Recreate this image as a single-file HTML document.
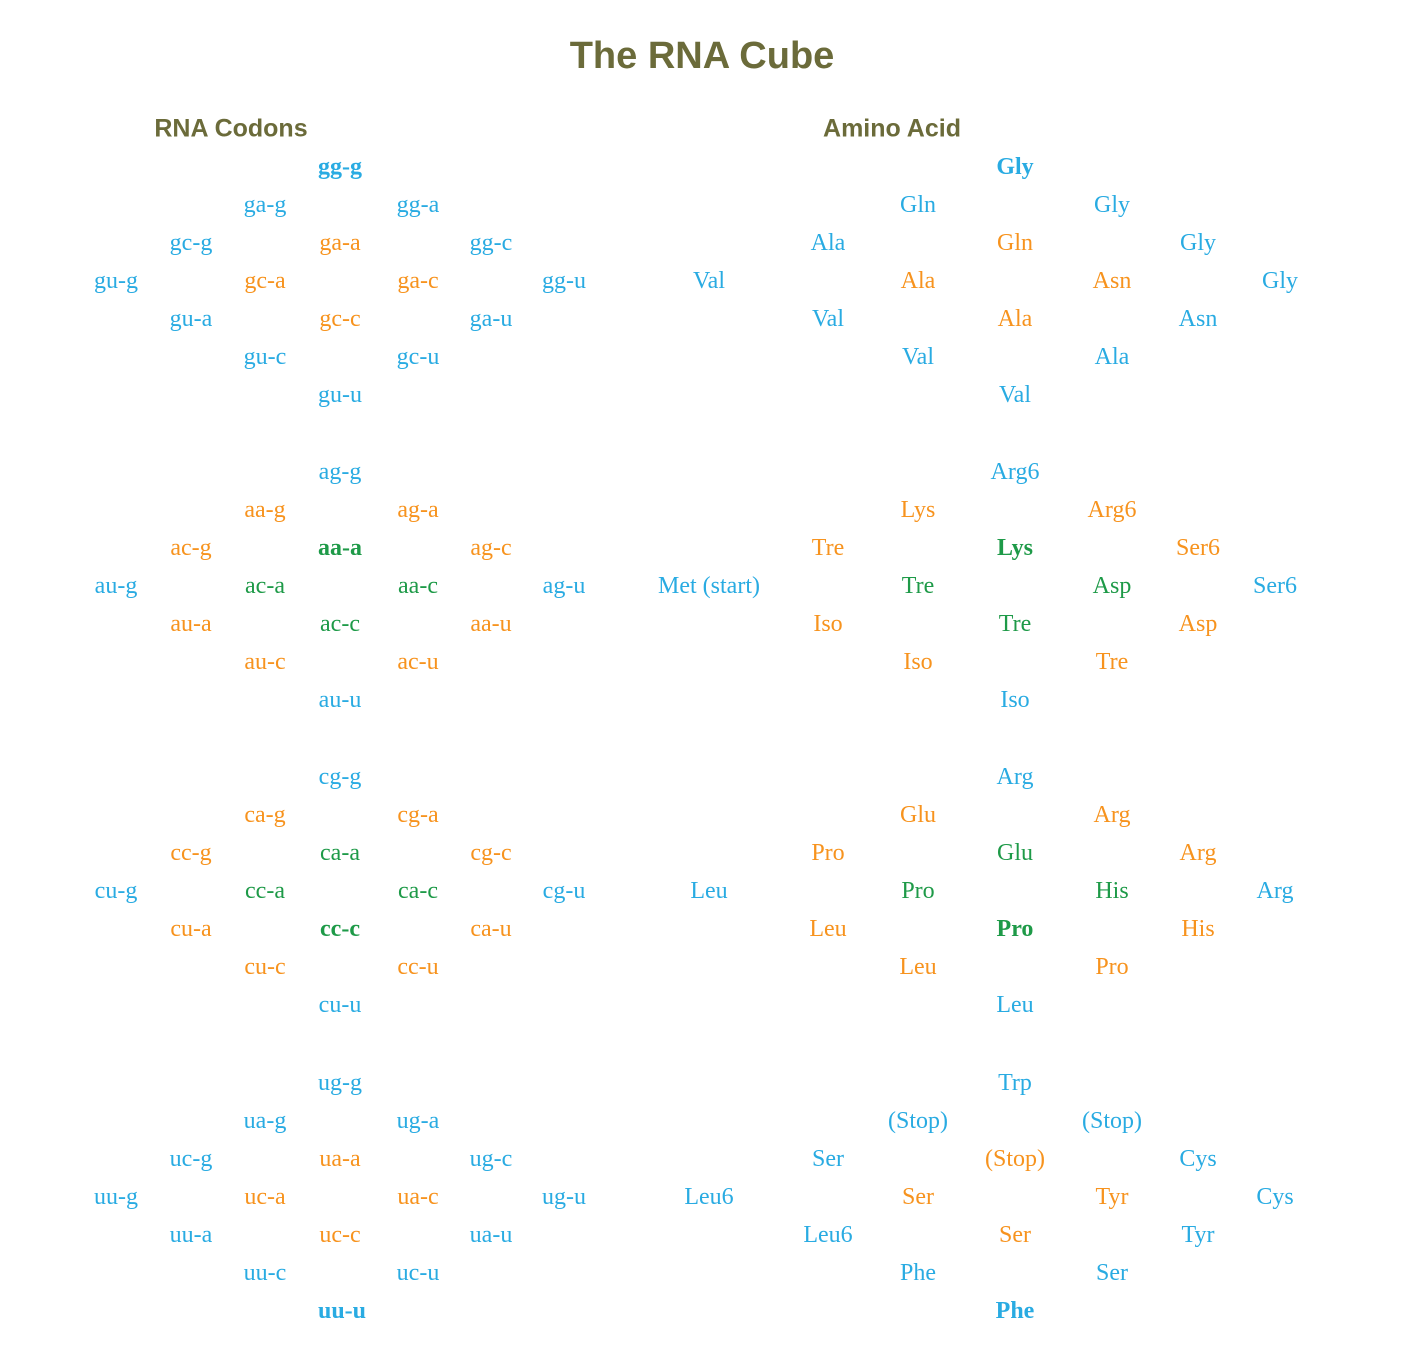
<!DOCTYPE html>
<html><head><meta charset="utf-8"><style>
body{margin:0;width:1404px;height:1354px;background:#fff;position:relative;overflow:hidden}
span{position:absolute;transform:translate(-50%,-50%);white-space:nowrap;font-family:"Liberation Serif",serif;font-size:24px;line-height:1}
.B{color:#29abe2}.O{color:#f7931e}.G{color:#1e9a48}.b{font-weight:bold}
.h{font-family:"Liberation Sans",sans-serif;font-weight:bold;color:#6b6b3a}
</style></head><body>
<span class="h" style="left:702px;top:56px;font-size:38px">The RNA Cube</span>
<span class="h" style="left:231px;top:129px;font-size:25px">RNA Codons</span>
<span class="h" style="left:892px;top:129px;font-size:25px">Amino Acid</span>

<!-- Block 1 -->
<span class="B b" style="left:340px;top:167px">gg-g</span>
<span class="B" style="left:265px;top:205px">ga-g</span><span class="B" style="left:418px;top:205px">gg-a</span>
<span class="B" style="left:191px;top:243px">gc-g</span><span class="O" style="left:340px;top:243px">ga-a</span><span class="B" style="left:491px;top:243px">gg-c</span>
<span class="B" style="left:116px;top:281px">gu-g</span><span class="O" style="left:265px;top:281px">gc-a</span><span class="O" style="left:418px;top:281px">ga-c</span><span class="B" style="left:564px;top:281px">gg-u</span>
<span class="B" style="left:191px;top:319px">gu-a</span><span class="O" style="left:340px;top:319px">gc-c</span><span class="B" style="left:491px;top:319px">ga-u</span>
<span class="B" style="left:265px;top:357px">gu-c</span><span class="B" style="left:418px;top:357px">gc-u</span>
<span class="B" style="left:340px;top:395px">gu-u</span>

<span class="B b" style="left:1015px;top:167px">Gly</span>
<span class="B" style="left:918px;top:205px">Gln</span><span class="B" style="left:1112px;top:205px">Gly</span>
<span class="B" style="left:828px;top:243px">Ala</span><span class="O" style="left:1015px;top:243px">Gln</span><span class="B" style="left:1198px;top:243px">Gly</span>
<span class="B" style="left:709px;top:281px">Val</span><span class="O" style="left:918px;top:281px">Ala</span><span class="O" style="left:1112px;top:281px">Asn</span><span class="B" style="left:1280px;top:281px">Gly</span>
<span class="B" style="left:828px;top:319px">Val</span><span class="O" style="left:1015px;top:319px">Ala</span><span class="B" style="left:1198px;top:319px">Asn</span>
<span class="B" style="left:918px;top:357px">Val</span><span class="B" style="left:1112px;top:357px">Ala</span>
<span class="B" style="left:1015px;top:395px">Val</span>

<!-- Block 2 -->
<span class="B" style="left:340px;top:472px">ag-g</span>
<span class="O" style="left:265px;top:510px">aa-g</span><span class="O" style="left:418px;top:510px">ag-a</span>
<span class="O" style="left:191px;top:548px">ac-g</span><span class="G b" style="left:340px;top:548px">aa-a</span><span class="O" style="left:491px;top:548px">ag-c</span>
<span class="B" style="left:116px;top:586px">au-g</span><span class="G" style="left:265px;top:586px">ac-a</span><span class="G" style="left:418px;top:586px">aa-c</span><span class="B" style="left:564px;top:586px">ag-u</span>
<span class="O" style="left:191px;top:624px">au-a</span><span class="G" style="left:340px;top:624px">ac-c</span><span class="O" style="left:491px;top:624px">aa-u</span>
<span class="O" style="left:265px;top:662px">au-c</span><span class="O" style="left:418px;top:662px">ac-u</span>
<span class="B" style="left:340px;top:700px">au-u</span>

<span class="B" style="left:1015px;top:472px">Arg6</span>
<span class="O" style="left:918px;top:510px">Lys</span><span class="O" style="left:1112px;top:510px">Arg6</span>
<span class="O" style="left:828px;top:548px">Tre</span><span class="G b" style="left:1015px;top:548px">Lys</span><span class="O" style="left:1198px;top:548px">Ser6</span>
<span class="B" style="left:709px;top:586px">Met (start)</span><span class="G" style="left:918px;top:586px">Tre</span><span class="G" style="left:1112px;top:586px">Asp</span><span class="B" style="left:1275px;top:586px">Ser6</span>
<span class="O" style="left:828px;top:624px">Iso</span><span class="G" style="left:1015px;top:624px">Tre</span><span class="O" style="left:1198px;top:624px">Asp</span>
<span class="O" style="left:918px;top:662px">Iso</span><span class="O" style="left:1112px;top:662px">Tre</span>
<span class="B" style="left:1015px;top:700px">Iso</span>

<!-- Block 3 -->
<span class="B" style="left:340px;top:777px">cg-g</span>
<span class="O" style="left:265px;top:815px">ca-g</span><span class="O" style="left:418px;top:815px">cg-a</span>
<span class="O" style="left:191px;top:853px">cc-g</span><span class="G" style="left:340px;top:853px">ca-a</span><span class="O" style="left:491px;top:853px">cg-c</span>
<span class="B" style="left:116px;top:891px">cu-g</span><span class="G" style="left:265px;top:891px">cc-a</span><span class="G" style="left:418px;top:891px">ca-c</span><span class="B" style="left:564px;top:891px">cg-u</span>
<span class="O" style="left:191px;top:929px">cu-a</span><span class="G b" style="left:340px;top:929px">cc-c</span><span class="O" style="left:491px;top:929px">ca-u</span>
<span class="O" style="left:265px;top:967px">cu-c</span><span class="O" style="left:418px;top:967px">cc-u</span>
<span class="B" style="left:340px;top:1005px">cu-u</span>

<span class="B" style="left:1015px;top:777px">Arg</span>
<span class="O" style="left:918px;top:815px">Glu</span><span class="O" style="left:1112px;top:815px">Arg</span>
<span class="O" style="left:828px;top:853px">Pro</span><span class="G" style="left:1015px;top:853px">Glu</span><span class="O" style="left:1198px;top:853px">Arg</span>
<span class="B" style="left:709px;top:891px">Leu</span><span class="G" style="left:918px;top:891px">Pro</span><span class="G" style="left:1112px;top:891px">His</span><span class="B" style="left:1275px;top:891px">Arg</span>
<span class="O" style="left:828px;top:929px">Leu</span><span class="G b" style="left:1015px;top:929px">Pro</span><span class="O" style="left:1198px;top:929px">His</span>
<span class="O" style="left:918px;top:967px">Leu</span><span class="O" style="left:1112px;top:967px">Pro</span>
<span class="B" style="left:1015px;top:1005px">Leu</span>

<!-- Block 4 -->
<span class="B" style="left:340px;top:1083px">ug-g</span>
<span class="B" style="left:265px;top:1121px">ua-g</span><span class="B" style="left:418px;top:1121px">ug-a</span>
<span class="B" style="left:191px;top:1159px">uc-g</span><span class="O" style="left:340px;top:1159px">ua-a</span><span class="B" style="left:491px;top:1159px">ug-c</span>
<span class="B" style="left:116px;top:1197px">uu-g</span><span class="O" style="left:265px;top:1197px">uc-a</span><span class="O" style="left:418px;top:1197px">ua-c</span><span class="B" style="left:564px;top:1197px">ug-u</span>
<span class="B" style="left:191px;top:1235px">uu-a</span><span class="O" style="left:340px;top:1235px">uc-c</span><span class="B" style="left:491px;top:1235px">ua-u</span>
<span class="B" style="left:265px;top:1273px">uu-c</span><span class="B" style="left:418px;top:1273px">uc-u</span>
<span class="B b" style="left:342px;top:1311px">uu-u</span>

<span class="B" style="left:1015px;top:1083px">Trp</span>
<span class="B" style="left:918px;top:1121px">(Stop)</span><span class="B" style="left:1112px;top:1121px">(Stop)</span>
<span class="B" style="left:828px;top:1159px">Ser</span><span class="O" style="left:1015px;top:1159px">(Stop)</span><span class="B" style="left:1198px;top:1159px">Cys</span>
<span class="B" style="left:709px;top:1197px">Leu6</span><span class="O" style="left:918px;top:1197px">Ser</span><span class="O" style="left:1112px;top:1197px">Tyr</span><span class="B" style="left:1275px;top:1197px">Cys</span>
<span class="B" style="left:828px;top:1235px">Leu6</span><span class="O" style="left:1015px;top:1235px">Ser</span><span class="B" style="left:1198px;top:1235px">Tyr</span>
<span class="B" style="left:918px;top:1273px">Phe</span><span class="B" style="left:1112px;top:1273px">Ser</span>
<span class="B b" style="left:1015px;top:1311px">Phe</span>
</body></html>
